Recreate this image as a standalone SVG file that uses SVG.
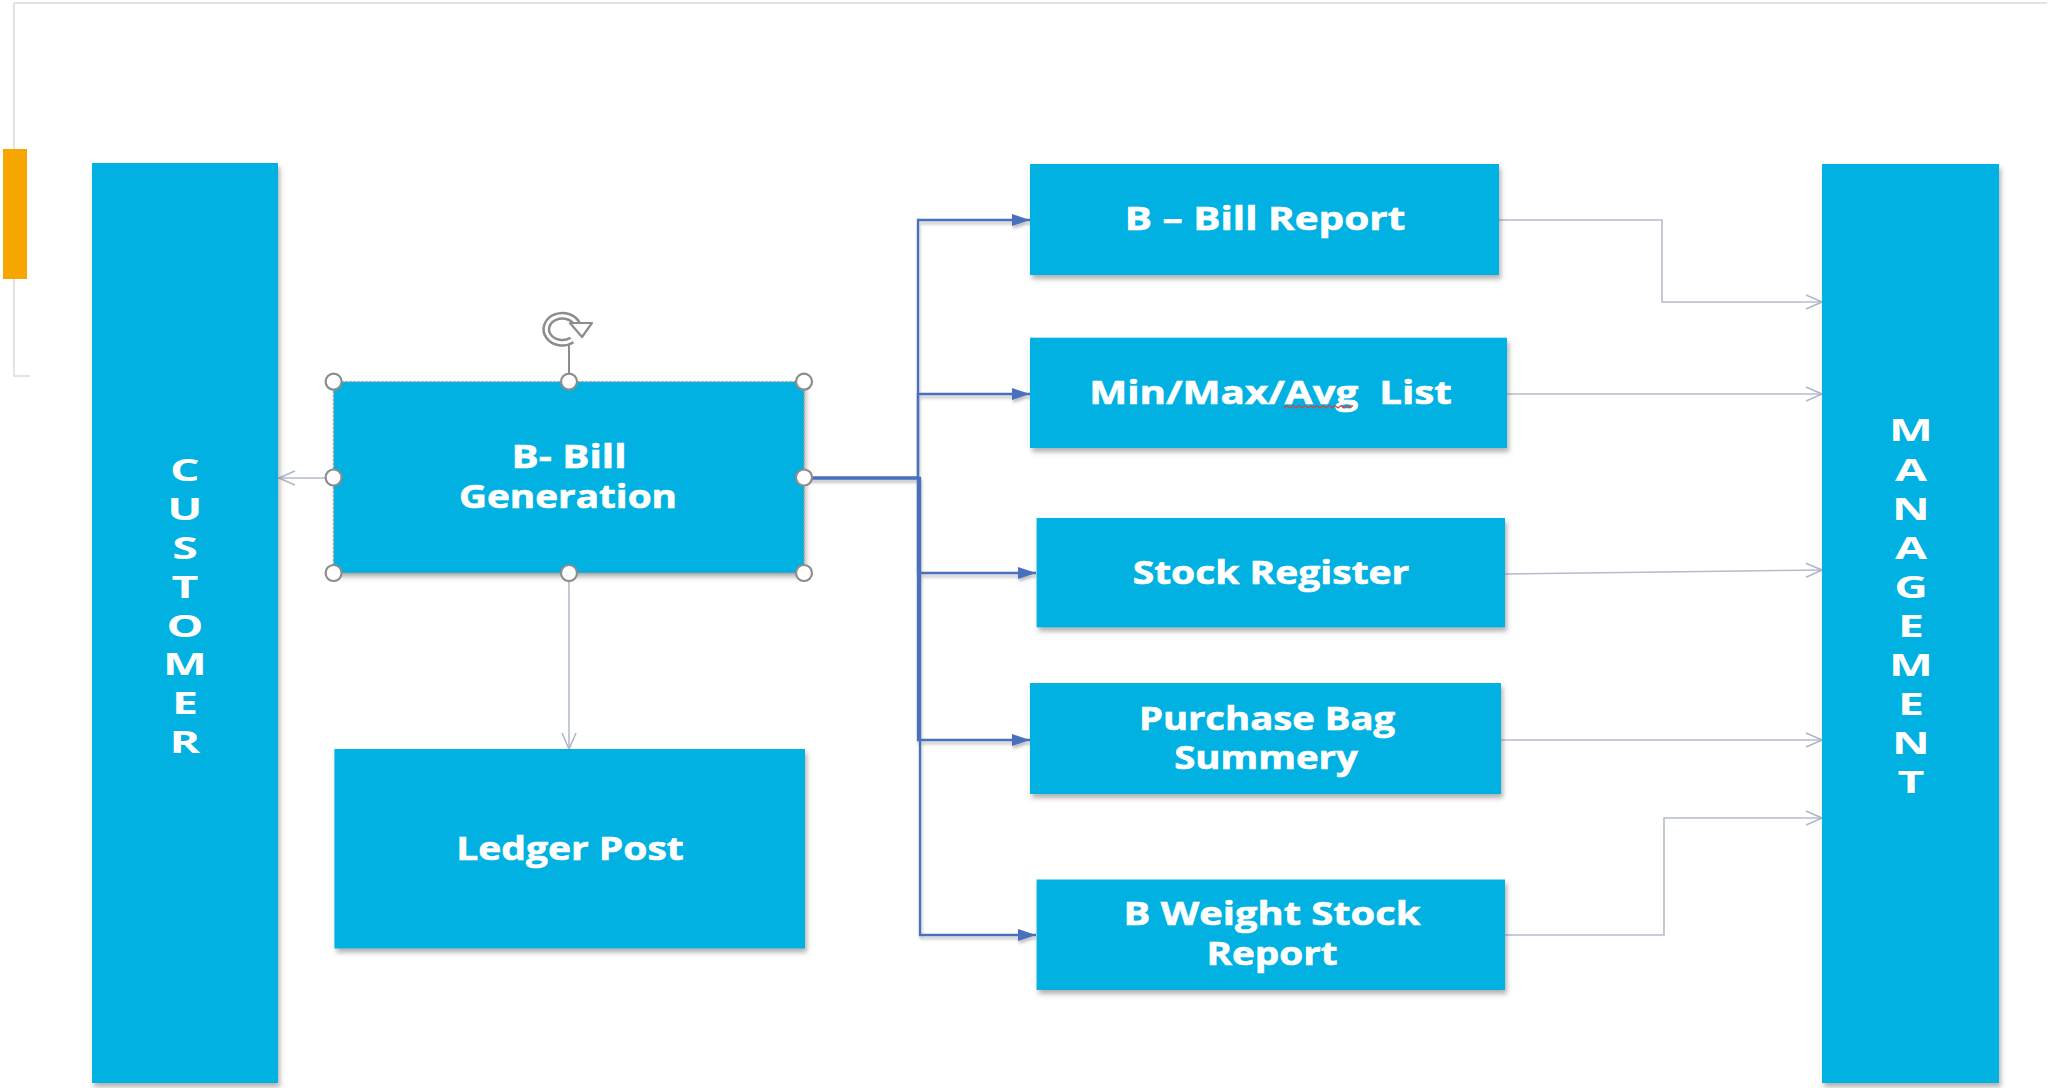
<svg xmlns="http://www.w3.org/2000/svg" width="2067" height="1088" viewBox="0 0 2067 1088">
<style>
.box{fill:#00B1E1;filter:url(#shadow)}
.lbl{font-family:"Open Sans","Noto Sans","DejaVu Sans",sans-serif;font-weight:700;font-size:31.5px;fill:#FFFFFF;stroke:#FFFFFF;stroke-width:0.6;text-anchor:middle;white-space:pre}
.vert{font-family:"Open Sans","Noto Sans","DejaVu Sans",sans-serif;font-weight:700;font-size:31px;fill:#FFFFFF;text-anchor:middle}
.blue{fill:none;stroke:#4A70BE;stroke-width:2.3;marker-end:url(#blueArrow)}
.gray{fill:none;stroke:#B4BCCB;stroke-width:1.6;marker-end:url(#grayArrow)}
.handle{fill:#FFFFFF;stroke:#8C8C8C;stroke-width:2.2}
.frame{fill:none;stroke:#E4E4E4;stroke-width:2}
</style>
<defs>
<filter id="shadow" x="-10%" y="-10%" width="125%" height="130%">
<feDropShadow dx="2" dy="4" stdDeviation="2.5" flood-color="#555555" flood-opacity="0.45"/>
</filter>
<filter id="lineshadow" x="-5%" y="-5%" width="110%" height="110%">
<feDropShadow dx="1" dy="3" stdDeviation="1.5" flood-color="#777777" flood-opacity="0.45"/>
</filter>
<marker id="blueArrow" markerWidth="18" markerHeight="12" refX="18" refY="6" orient="auto" markerUnits="userSpaceOnUse">
<path d="M0,0 L18,6 L0,12 Z" fill="#4A70BE"/>
</marker>
<marker id="grayArrow" markerWidth="18" markerHeight="16" refX="17" refY="8" orient="auto" markerUnits="userSpaceOnUse">
<path d="M1,1 L17,8 L1,15" fill="none" stroke="#B0B8C8" stroke-width="1.6"/>
</marker>
</defs>
<rect width="2067" height="1088" fill="#FFFFFF"/>
<g id="frame">
<path class="frame" d="M2047,3 H14 V376 H30"/>
<rect x="3" y="149" width="24" height="130" fill="#F5A700"/>
</g>
<g id="connectors">
<g filter="url(#lineshadow)">
<path class="blue" d="M804,478 H918 V220 H1030"/>
<path class="blue" d="M804,478 H918 V394 H1030"/>
<path class="blue" d="M804,478 H918 V573 H1036"/>
<path class="blue" d="M804,478 H918 V740 H1030"/>
<path class="blue" d="M804,478 H920 V935 H1036"/>
</g>
<path class="gray" d="M1499,220 H1662 V302 H1822"/>
<path class="gray" d="M1507,394 H1822"/>
<path class="gray" d="M1505,574 L1822,570"/>
<path class="gray" d="M1501,740 H1822"/>
<path class="gray" d="M1505,935 H1664 V818 H1822"/>
<path class="gray" d="M333,478 H279"/>
<path class="gray" d="M569,573 V749"/>
</g>
<g id="customer">
<rect class="box" x="92" y="163" width="186" height="920"/>
<text class="vert" transform="scale(1.5,1)" x="123.3 123.3 123.3 123.3 123.3 123.3 123.3 123.3" y="481 519.9 558.8 597.7 636.6 675.5 714.4 753.3">CUSTOMER</text>
</g>
<g id="management">
<rect class="box" x="1822" y="164" width="177" height="919"/>
<text class="vert" transform="scale(1.5,1)" x="1274 1274 1274 1274 1274 1274 1274 1274 1274 1274" y="441.5 480.6 519.7 558.8 597.9 637 676.1 715.2 754.3 793.4">MANAGEMENT</text>
</g>
<g id="bill-generation">
<rect class="box" x="333.6" y="381.7" width="470.4" height="191.3"/>
<rect x="333.6" y="381.7" width="470.4" height="191.3" fill="none" stroke="#9A9A9A" stroke-width="1.5" stroke-dasharray="2 2"/>
<text class="lbl" transform="translate(569,468.3) scale(1.285,1)">B- Bill</text>
<text class="lbl" transform="translate(568,508.3) scale(1.228,1)">Generation</text>
<line x1="569" y1="344" x2="569" y2="375" stroke="#8C8C8C" stroke-width="2"/>
<path d="M572,340 A16,13.5 0 1 1 577.5,325" fill="none" stroke="#8C8C8C" stroke-width="8"/>
<path d="M572,340 A16,13.5 0 1 1 577.5,325" fill="none" stroke="#FFFFFF" stroke-width="3"/>
<path d="M570,323 L592,323 L582,337 Z" fill="#FFFFFF" stroke="#8C8C8C" stroke-width="2.2" stroke-linejoin="round"/>
<circle class="handle" cx="333.6" cy="381.7" r="8"/>
<circle class="handle" cx="569" cy="381.7" r="8"/>
<circle class="handle" cx="804" cy="381.7" r="8"/>
<circle class="handle" cx="333.6" cy="477.5" r="8"/>
<circle class="handle" cx="804" cy="477.5" r="8"/>
<circle class="handle" cx="333.6" cy="573" r="8"/>
<circle class="handle" cx="569" cy="573" r="8"/>
<circle class="handle" cx="804" cy="573" r="8"/>
</g>
<g id="ledger-post">
<rect class="box" x="334.4" y="749" width="470.6" height="199.5"/>
<text class="lbl" transform="translate(570,860) scale(1.238,1)">Ledger Post</text>
</g>
<g id="bill-report">
<rect class="box" x="1030" y="164" width="469" height="111"/>
<text class="lbl" transform="translate(1265,230) scale(1.285,1)">B – Bill Report</text>
</g>
<g id="minmax-list">
<rect class="box" x="1030" y="337.7" width="477" height="110.3"/>
<text class="lbl" transform="translate(1270.5,404.3) scale(1.279,1)">Min/Max/Avg  List</text>
<path d="M1284,408 l3,-2.5 l3,2.5 l3,-2.5 l3,2.5 l3,-2.5 l3,2.5 l3,-2.5 l3,2.5 l3,-2.5 l3,2.5 l3,-2.5 l3,2.5 l3,-2.5 l3,2.5 l3,-2.5 l3,2.5 l3,-2.5 l3,2.5 l3,-2.5 l3,2.5 l3,-2.5 l3,2.5 l3,-2.5" fill="none" stroke="#D9403A" stroke-width="1.3"/>
</g>
<g id="stock-register">
<rect class="box" x="1036.6" y="518" width="468.4" height="109.4"/>
<text class="lbl" transform="translate(1271,584) scale(1.238,1)">Stock Register</text>
</g>
<g id="purchase-bag-summery">
<rect class="box" x="1030" y="683" width="471" height="111"/>
<text class="lbl" transform="translate(1267,729.7) scale(1.214,1)">Purchase Bag</text>
<text class="lbl" transform="translate(1266,768.6) scale(1.219,1)">Summery</text>
</g>
<g id="b-weight-stock-report">
<rect class="box" x="1036.6" y="879.5" width="468.4" height="110.5"/>
<text class="lbl" transform="translate(1272,925) scale(1.266,1)">B Weight Stock</text>
<text class="lbl" transform="translate(1272,965) scale(1.228,1)">Report</text>
</g>
</svg>
